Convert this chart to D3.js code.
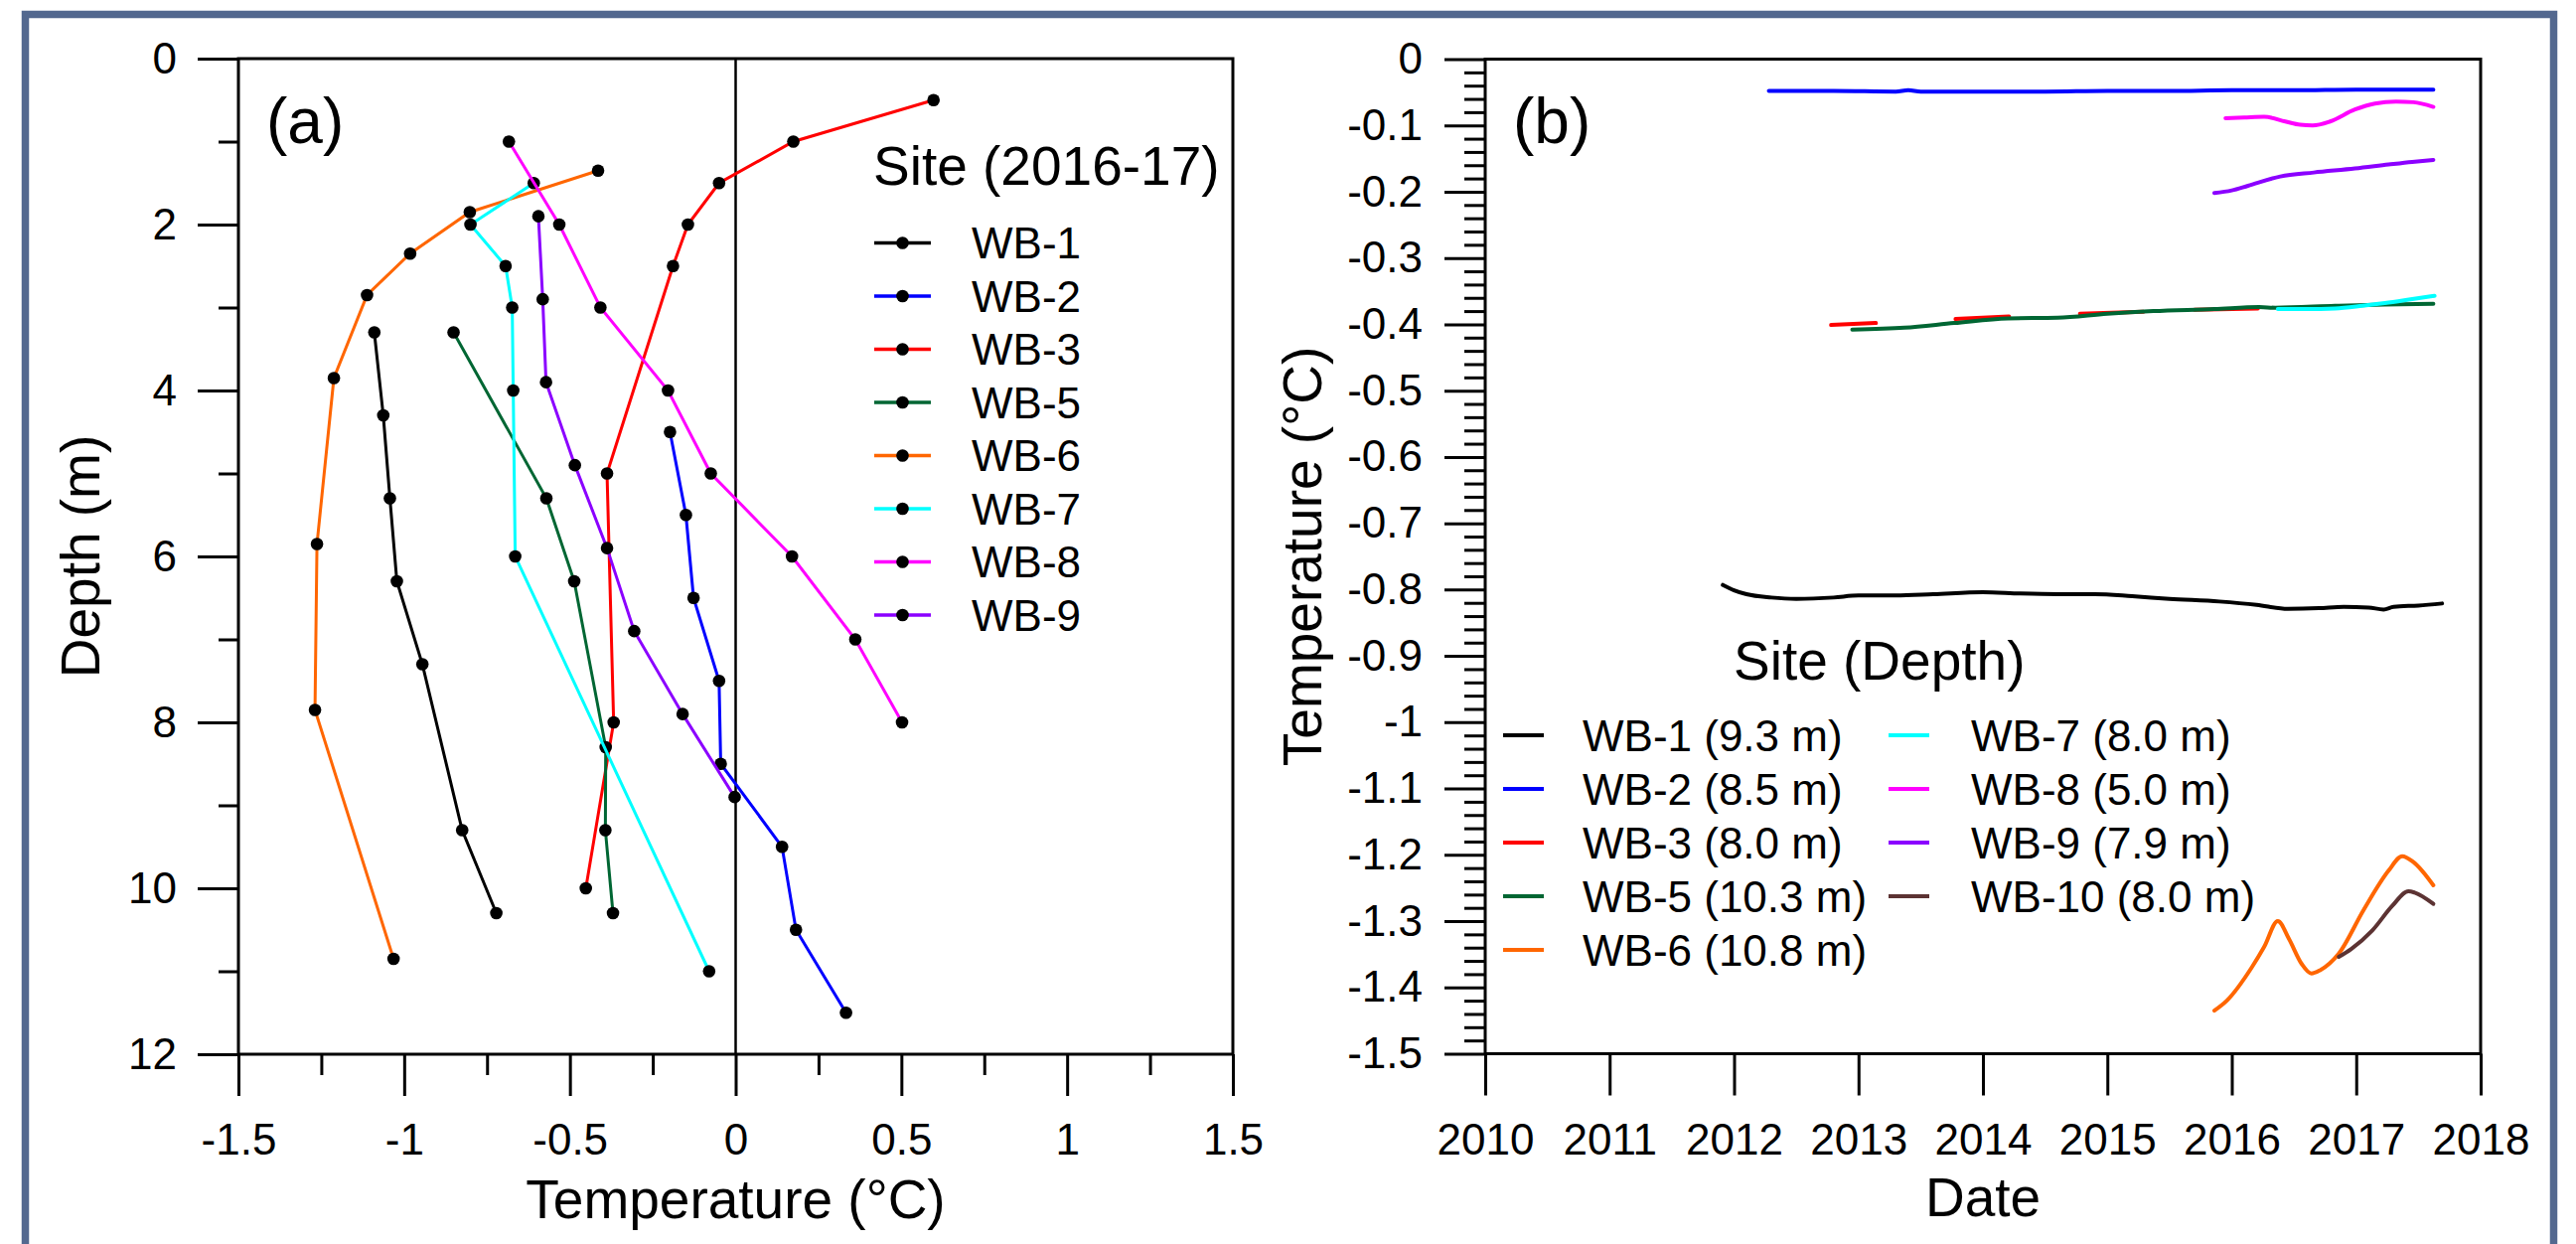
<!DOCTYPE html>
<html>
<head>
<meta charset="utf-8">
<script src="https://cdn.jsdelivr.net/npm/d3@7"></script>
<style>
  body { margin: 0; background: #fff; }
  svg { display: block; font-family: "Liberation Sans", Arial, sans-serif; }
</style>
</head>
<body>
<div id="chart"></div>
<script>
//---------- panel (a) data: depth (m) / temperature (°C) profiles ----------
const profileSites = ["WB-1", "WB-2", "WB-3", "WB-5", "WB-6", "WB-7", "WB-8", "WB-9"];
const wb1Depth = [3.3, 4.3, 5.3, 6.3, 7.3, 9.3, 10.3];
const wb1Temp = [-1.09, -1.063, -1.043, -1.022, -0.945, -0.825, -0.722];
const wb2Depth = [4.5, 5.5, 6.5, 7.5, 8.5, 9.5, 10.5, 11.5];
const wb2Temp = [-0.198, -0.15, -0.127, -0.05, -0.045, 0.14, 0.182, 0.333];
const wb3Depth = [0.5, 1.0, 1.5, 2.0, 2.5, 5.0, 8.0, 10.0];
const wb3Temp = [0.597, 0.174, -0.05, -0.144, -0.189, -0.388, -0.368, -0.452];
const wb5Depth = [3.3, 5.3, 6.3, 8.3, 9.3, 10.3];
const wb5Temp = [-0.851, -0.571, -0.487, -0.392, -0.393, -0.37];
const wb6Depth = [1.35, 1.85, 2.35, 2.85, 3.85, 5.85, 7.85, 10.85];
const wb6Temp = [-0.415, -0.802, -0.982, -1.112, -1.212, -1.263, -1.269, -1.032];
const wb7Depth = [1.5, 2.0, 2.5, 3.0, 4.0, 6.0, 11.0];
const wb7Temp = [-0.609, -0.8, -0.694, -0.674, -0.671, -0.665, -0.08];
const wb8Depth = [1.0, 2.0, 3.0, 4.0, 5.0, 6.0, 7.0, 8.0];
const wb8Temp = [-0.684, -0.532, -0.408, -0.204, -0.075, 0.17, 0.361, 0.502];
const wb9Depth = [1.9, 2.9, 3.9, 4.9, 5.9, 6.9, 7.9, 8.9];
const wb9Temp = [-0.595, -0.582, -0.572, -0.485, -0.388, -0.306, -0.16, -0.003];

const tempTicks = [-1.5, -1, -0.5, 0, 0.5, 1, 1.5];
const depthTicks = [0, 2, 4, 6, 8, 10, 12];

//---------- panel (b) data: [decimal year, temperature] ----------
const seriesSites = ["WB-1", "WB-2", "WB-3", "WB-5", "WB-6", "WB-7", "WB-8", "WB-9", "WB-10"];
const seriesLabels = ["WB-1 (9.3 m)", "WB-2 (8.5 m)", "WB-3 (8.0 m)", "WB-5 (10.3 m)", "WB-6 (10.8 m)",
                      "WB-7 (8.0 m)", "WB-8 (5.0 m)", "WB-9 (7.9 m)", "WB-10 (8.0 m)"];
const ts1 = [[2011.91, -0.793], [2012.0, -0.801], [2012.1, -0.807], [2012.3, -0.812], [2012.5, -0.814],
             [2012.8, -0.812], [2013.0, -0.809], [2013.3, -0.809], [2013.6, -0.807], [2014.0, -0.804],
             [2014.3, -0.806], [2014.6, -0.807], [2014.9, -0.807], [2015.2, -0.810], [2015.5, -0.814],
             [2015.9, -0.818], [2016.2, -0.823], [2016.45, -0.829], [2016.7, -0.828], [2016.9, -0.826],
             [2017.1, -0.827], [2017.22, -0.830], [2017.3, -0.826], [2017.5, -0.824], [2017.69, -0.821]];
const ts2 = [[2012.28, -0.048], [2012.8, -0.048], [2013.3, -0.049], [2013.4, -0.047], [2013.5, -0.049],
             [2014.0, -0.049], [2014.5, -0.049], [2015.0, -0.048], [2015.5, -0.048], [2016.0, -0.047],
             [2016.5, -0.047], [2017.0, -0.046], [2017.62, -0.046]];
const ts3 = [[2012.78, -0.401], [2013.14, -0.398], [2013.4, null], [2013.78, -0.392], [2014.21, -0.388],
             [2014.5, null], [2014.78, -0.384], [2015.29, -0.381], [2015.5, null], [2015.7, -0.378],
             [2016.21, -0.376]];
const ts5 = [[2012.95, -0.408], [2013.37, -0.405], [2013.77, -0.398], [2014.2, -0.391], [2014.6, -0.390],
             [2015.0, -0.384], [2015.37, -0.380], [2015.86, -0.377], [2016.22, -0.374], [2016.35, -0.375],
             [2016.83, -0.372], [2017.23, -0.370], [2017.62, -0.369]];
const ts6 = [[2015.86, -1.435], [2015.96, -1.42], [2016.16, -1.37], [2016.26, -1.339], [2016.37, -1.3],
             [2016.46, -1.327], [2016.56, -1.364], [2016.64, -1.379], [2016.71, -1.374], [2016.86, -1.349],
             [2017.06, -1.283], [2017.26, -1.224], [2017.37, -1.202], [2017.46, -1.211], [2017.62, -1.246]];
const ts7 = [[2016.37, -0.377], [2016.6, -0.377], [2016.83, -0.376], [2017.05, -0.372], [2017.23, -0.368],
             [2017.45, -0.362], [2017.63, -0.357]];
const ts8 = [[2015.95, -0.089], [2016.1, -0.088], [2016.26, -0.087], [2016.43, -0.094], [2016.55, -0.099],
             [2016.65, -0.100], [2016.79, -0.094], [2016.99, -0.076], [2017.15, -0.067], [2017.32, -0.064],
             [2017.46, -0.065], [2017.62, -0.072]];
const ts9 = [[2015.86, -0.202], [2016.0, -0.198], [2016.13, -0.191], [2016.39, -0.177], [2016.66, -0.171],
             [2016.99, -0.165], [2017.26, -0.159], [2017.45, -0.155], [2017.62, -0.152]];
const ts10 = [[2016.86, -1.354], [2016.96, -1.342], [2017.13, -1.314], [2017.29, -1.277], [2017.42, -1.255],
              [2017.47, -1.257], [2017.62, -1.274]];

const yearTicks = [2010, 2011, 2012, 2013, 2014, 2015, 2016, 2017, 2018];
const tempBTicks = [0, -0.1, -0.2, -0.3, -0.4, -0.5, -0.6, -0.7, -0.8, -0.9, -1, -1.1, -1.2, -1.3, -1.4, -1.5];

//colors per site
const siteColor = {
    "WB-1": "#000000", "WB-2": "#0000ff", "WB-3": "#ff0000", "WB-5": "#006633", "WB-6": "#ff6600",
    "WB-7": "#00ffff", "WB-8": "#ff00ff", "WB-9": "#8b00ff", "WB-10": "#5c3333"
};

//build tables from the arrays
const profileDepths = [wb1Depth, wb2Depth, wb3Depth, wb5Depth, wb6Depth, wb7Depth, wb8Depth, wb9Depth];
const profileTemps = [wb1Temp, wb2Temp, wb3Temp, wb5Temp, wb6Temp, wb7Temp, wb8Temp, wb9Temp];
const profiles = profileSites.map((site, i) => ({
    site: site,
    points: profileDepths[i].map((d, j) => ({ depth: d, temp: profileTemps[i][j] }))
}));
const seriesValues = [ts1, ts2, ts3, ts5, ts6, ts7, ts8, ts9, ts10];
const series = seriesSites.map((site, i) => ({ site: site, label: seriesLabels[i], values: seriesValues[i] }));

//svg
const W = 2593, H = 1252;
const svg = d3.select("#chart").append("svg")
    .attr("width", W)
    .attr("height", H);

svg.append("rect").attr("width", W).attr("height", H).attr("fill", "#fff");

//outer blue-grey frame
svg.append("rect")
    .attr("x", 25.5).attr("y", 14.5)
    .attr("width", 2545).attr("height", 1300)
    .attr("fill", "none")
    .attr("stroke", "#53688f")
    .attr("stroke-width", 7.5);

const axisStroke = 3;
const tickFont = 44, titleFont = 55;

function styleAxis(g) {
    g.select(".domain").remove();
    g.selectAll(".tick line").attr("stroke", "#000").attr("stroke-width", axisStroke);
    g.selectAll(".tick text").attr("fill", "#000").style("font-size", tickFont + "px").style("font-family", null);
}

//================= panel (a) =================
const xA = d3.scaleLinear().domain([-1.5, 1.5]).range([240, 1241]);
const yA = d3.scaleLinear().domain([0, 12]).range([59, 1061]);

//x axis major + minor
svg.append("g")
    .attr("transform", `translate(0,${yA(12)})`)
    .call(d3.axisBottom(xA).tickValues(d3.range(-1.25, 1.5, 0.5)).tickSize(21).tickFormat(""))
    .call(styleAxis);
svg.append("g")
    .attr("transform", `translate(0,${yA(12)})`)
    .call(d3.axisBottom(xA).tickValues(tempTicks).tickSize(42).tickPadding(28).tickFormat(d => String(d)))
    .call(styleAxis);

//y axis major + minor
svg.append("g")
    .attr("transform", `translate(${xA(-1.5)},0)`)
    .call(d3.axisLeft(yA).tickValues(d3.range(1, 12, 2)).tickSize(20).tickFormat(""))
    .call(styleAxis);
svg.append("g")
    .attr("transform", `translate(${xA(-1.5)},0)`)
    .call(d3.axisLeft(yA).tickValues(depthTicks).tickSize(41).tickPadding(21).tickFormat(d => String(d)))
    .call(styleAxis);

//frame
svg.append("rect")
    .attr("x", xA(-1.5)).attr("y", yA(0))
    .attr("width", xA(1.5) - xA(-1.5)).attr("height", yA(12) - yA(0))
    .attr("fill", "none").attr("stroke", "#000").attr("stroke-width", axisStroke);

//zero line
svg.append("line")
    .attr("x1", xA(0)).attr("x2", xA(0))
    .attr("y1", yA(0)).attr("y2", yA(12))
    .attr("stroke", "#000").attr("stroke-width", 2.5);

const profileLine = d3.line().x(d => xA(d.temp)).y(d => yA(d.depth));

const pg = svg.append("g")
    .selectAll("g")
    .data(profiles)
    .enter().append("g");

pg.append("path")
    .attr("d", d => profileLine(d.points))
    .attr("fill", "none")
    .attr("stroke", d => siteColor[d.site])
    .attr("stroke-width", 3);

pg.selectAll("circle")
    .data(d => d.points)
    .enter().append("circle")
    .attr("cx", d => xA(d.temp))
    .attr("cy", d => yA(d.depth))
    .attr("r", 6.3)
    .attr("fill", "#000");

//panel label
svg.append("text").attr("x", 268).attr("y", 144).style("font-size", "64px").text("(a)");

//axis titles
svg.append("text")
    .attr("x", (xA(-1.5) + xA(1.5)) / 2).attr("y", 1226)
    .attr("text-anchor", "middle").style("font-size", titleFont + "px")
    .text("Temperature (°C)");
svg.append("text")
    .attr("transform", `translate(100,${(yA(0) + yA(12)) / 2}) rotate(-90)`)
    .attr("text-anchor", "middle").style("font-size", titleFont + "px")
    .text("Depth (m)");

//legend (a)
const legA = svg.append("g").attr("transform", "translate(879,0)");
legA.append("text").attr("x", 0).attr("y", 186).style("font-size", titleFont + "px").text("Site (2016-17)");
profileSites.forEach((site, i) => {
    const row = legA.append("g").attr("transform", `translate(0,${244.5 + i * 53.5})`);
    row.append("line")
        .attr("x1", 1).attr("x2", 58)
        .attr("stroke", siteColor[site]).attr("stroke-width", 3.5);
    row.append("circle").attr("cx", 29.5).attr("r", 6.3).attr("fill", "#000");
    row.append("text")
        .attr("x", 99).attr("dy", "0.36em")
        .style("font-size", tickFont + "px")
        .text(site);
});

//================= panel (b) =================
const xB = d3.scaleLinear().domain([2010, 2018]).range([1495, 2497]);
const yB = d3.scaleLinear().domain([0, -1.5]).range([59.5, 1060.5]);

svg.append("g")
    .attr("transform", `translate(0,${yB(-1.5)})`)
    .call(d3.axisBottom(xB).tickValues(yearTicks).tickSize(42).tickPadding(28).tickFormat(d => String(d)))
    .call(styleAxis);

svg.append("g")
    .attr("transform", `translate(${xB(2010)},0)`)
    .call(d3.axisLeft(yB).tickValues(d3.range(0, 76).map(i => -i * 0.02).filter((v, i) => i % 5 !== 0))
        .tickSize(21).tickFormat(""))
    .call(styleAxis);
svg.append("g")
    .attr("transform", `translate(${xB(2010)},0)`)
    .call(d3.axisLeft(yB).tickValues(tempBTicks).tickSize(41).tickPadding(22).tickFormat(d => String(d)))
    .call(styleAxis);

svg.append("rect")
    .attr("x", xB(2010)).attr("y", yB(0))
    .attr("width", xB(2018) - xB(2010)).attr("height", yB(-1.5) - yB(0))
    .attr("fill", "none").attr("stroke", "#000").attr("stroke-width", axisStroke);

const seriesLine = d3.line()
    .defined(d => d[1] !== null)
    .x(d => xB(d[0]))
    .y(d => yB(d[1]))
    .curve(d3.curveMonotoneX);

svg.append("g")
    .selectAll("path")
    .data(series)
    .enter().append("path")
    .attr("d", d => seriesLine(d.values))
    .attr("fill", "none")
    .attr("stroke", d => siteColor[d.site])
    .attr("stroke-width", 4)
    .attr("stroke-linecap", "round");

svg.append("text").attr("x", 1523).attr("y", 144).style("font-size", "64px").text("(b)");

svg.append("text")
    .attr("x", (xB(2010) + xB(2018)) / 2).attr("y", 1224)
    .attr("text-anchor", "middle").style("font-size", titleFont + "px")
    .text("Date");
svg.append("text")
    .attr("transform", `translate(1330,${(yB(0) + yB(-1.5)) / 2}) rotate(-90)`)
    .attr("text-anchor", "middle").style("font-size", titleFont + "px")
    .text("Temperature (°C)");

//legend (b), two columns
const legB = svg.append("g");
legB.append("text").attr("x", 1745).attr("y", 684).style("font-size", titleFont + "px").text("Site (Depth)");
series.forEach((s, i) => {
    const col = i < 5 ? 0 : 1;
    const r = i < 5 ? i : i - 5;
    const x0 = col === 0 ? 1513 : 1901;
    const row = legB.append("g").attr("transform", `translate(${x0},${740 + r * 54})`);
    row.append("line")
        .attr("x1", 0).attr("x2", 41)
        .attr("stroke", siteColor[s.site]).attr("stroke-width", 4);
    row.append("text")
        .attr("x", col === 0 ? 80 : 83).attr("dy", "0.36em")
        .style("font-size", tickFont + "px")
        .text(s.label);
});
</script>
</body>
</html>
